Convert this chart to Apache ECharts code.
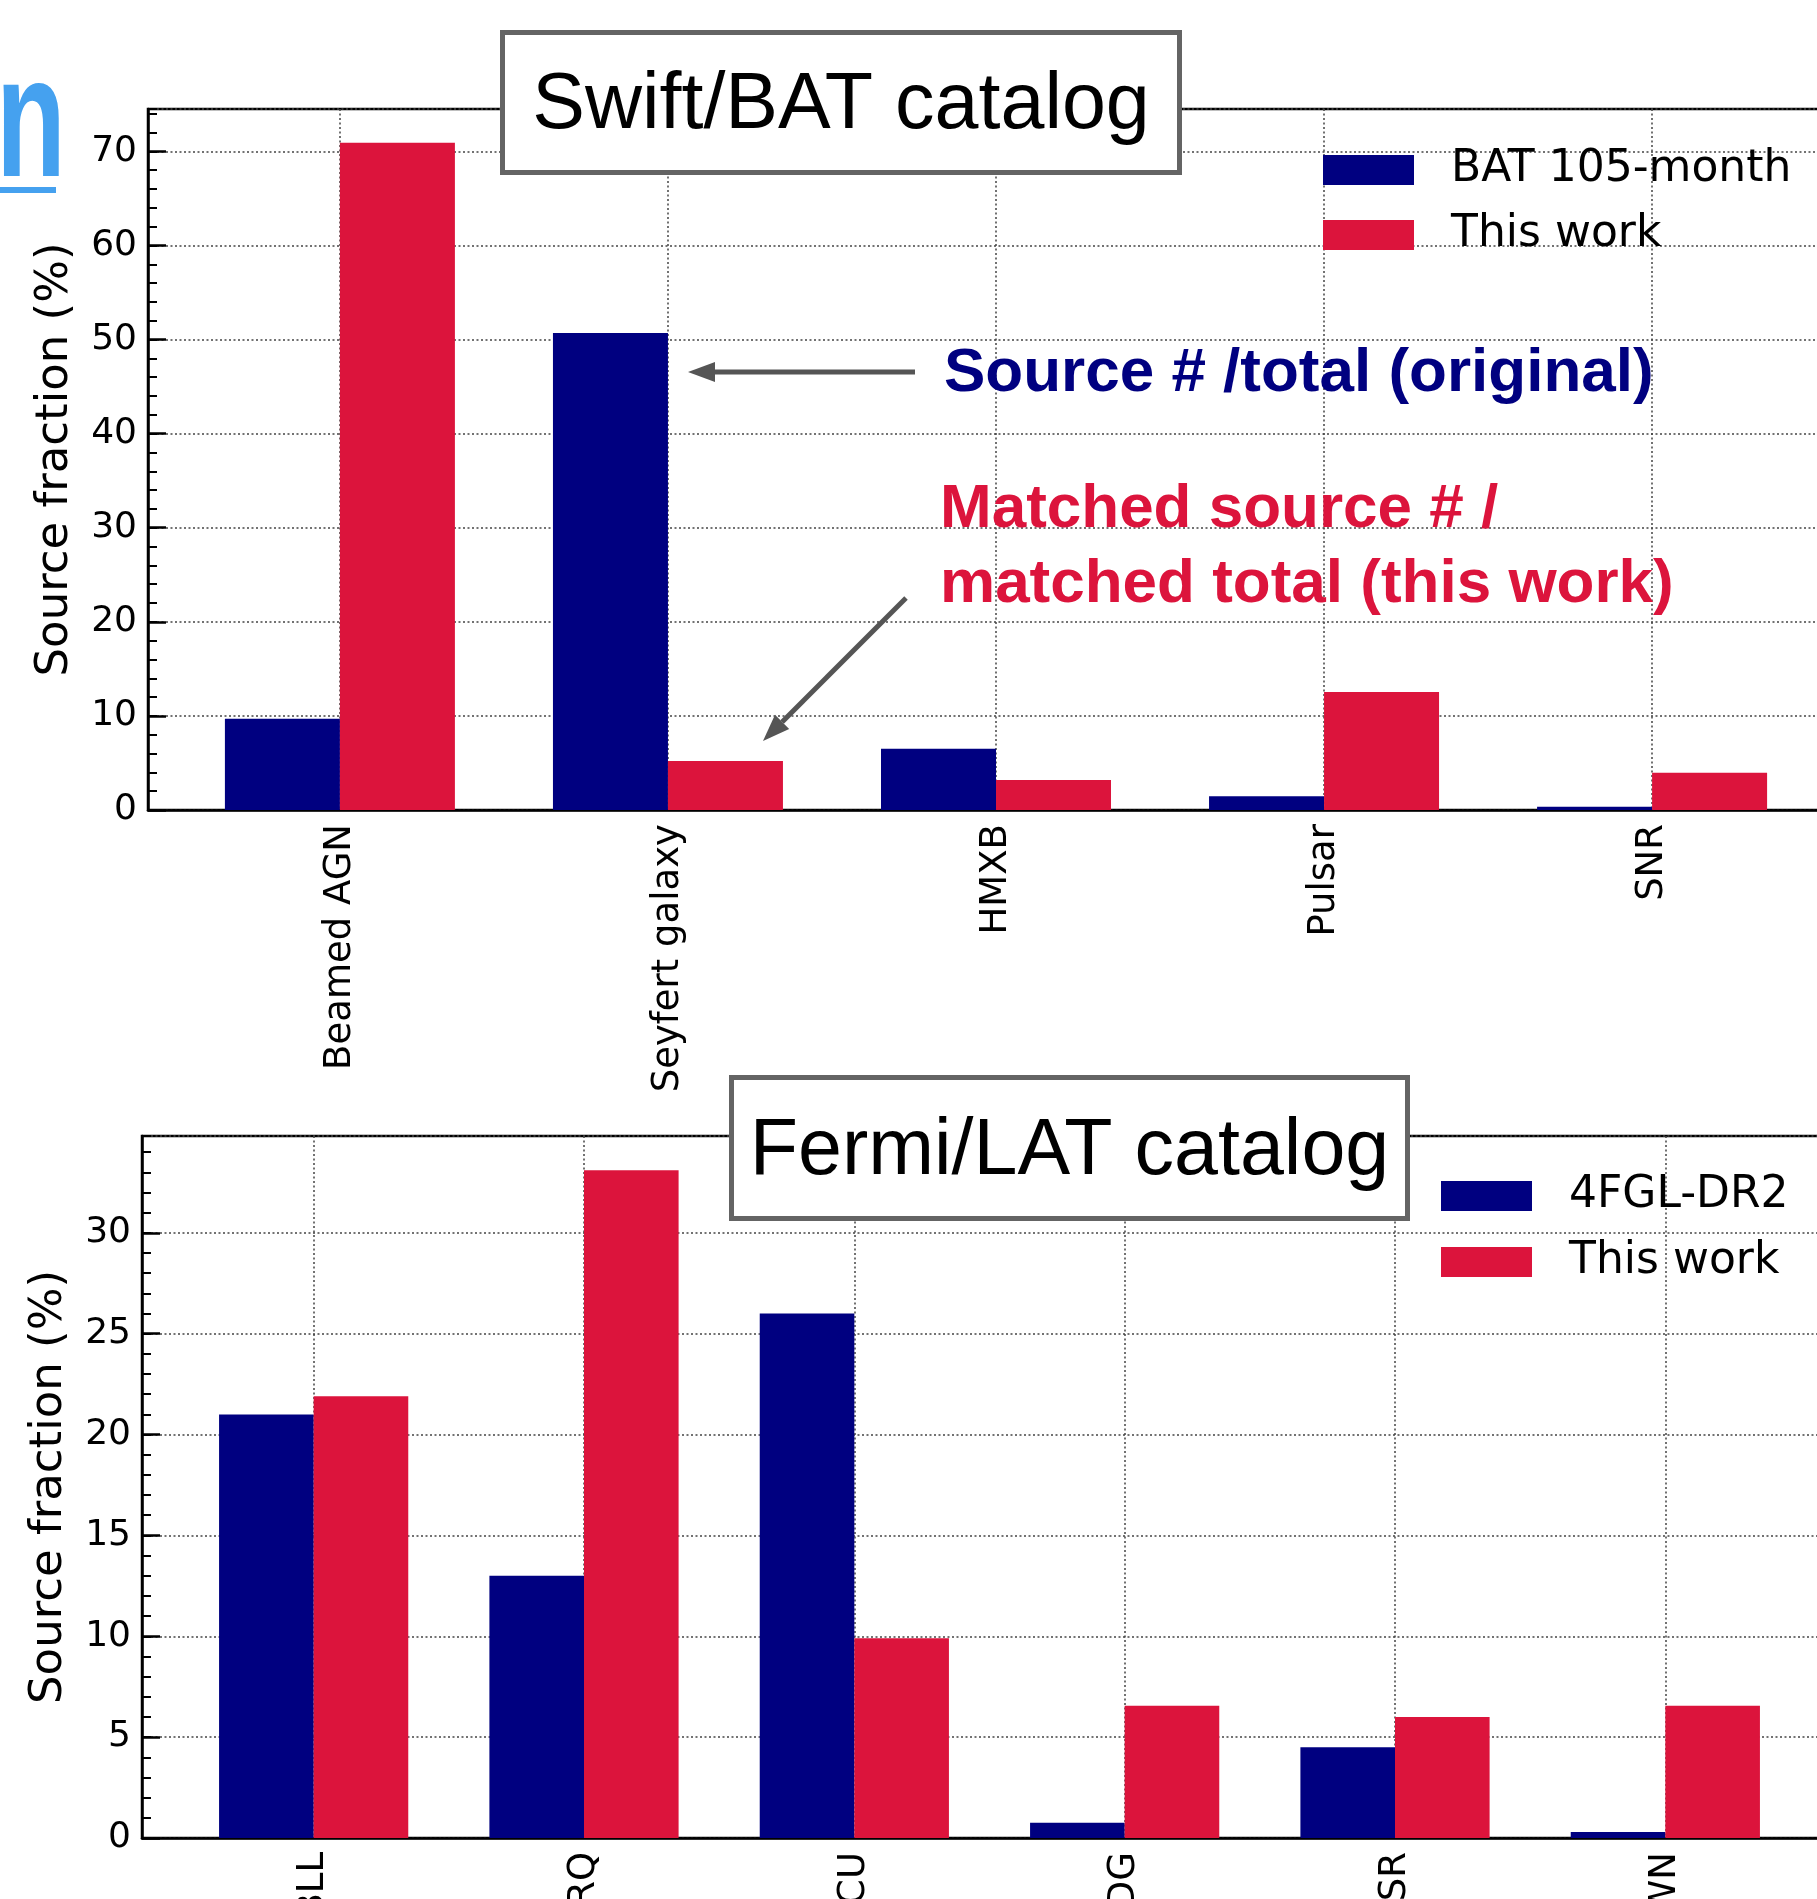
<!DOCTYPE html>
<html><head><meta charset="utf-8">
<script src="https://cdn.jsdelivr.net/npm/echarts@6/dist/echarts.min.js"></script>
<style>html,body{margin:0;padding:0;background:#fff}#c{width:1817px;height:1899px}</style>
</head><body><div id="c"></div>
<script>
// ---- data ----
const batCategories = ['Beamed AGN', 'Seyfert galaxy', 'HMXB', 'Pulsar', 'SNR'];
const batOriginal   = [9.7, 50.7, 6.5, 1.45, 0.35];     // BAT 105-month
const batThisWork   = [70.9, 5.2, 3.2, 12.55, 3.95];    // This work
const fermiCategories = ['BLL', 'FSRQ', 'BCU', 'RDG', 'PSR', 'PWN'];
const fermiOriginal   = [21.0, 13.0, 26.0, 0.75, 4.5, 0.3];   // 4FGL-DR2
const fermiThisWork   = [21.9, 33.1, 9.9, 6.55, 6.0, 6.55];   // This work
const seriesNames = { bat: 'BAT 105-month', fermi: '4FGL-DR2', ours: 'This work' };
const yTitle = 'Source fraction (%)';

// ---- styling ----
const FONT = 'DejaVu Sans';
const NAVY = '#000080', CRIMSON = '#DC143C';
const GRIDLINE = { color: '#444', width: 1.5, type: [2, 2.5] };

function xAxisFor(gridIndex, cats, min, max) {
  const idx = cats.map((_, i) => i);
  return {
    type: 'value', gridIndex, min, max, position: 'bottom',
    axisLine: { show: true, onZero: false, lineStyle: { color: '#000', width: 2.5 } },
    axisTick: { show: false, customValues: idx },
    axisLabel: { customValues: idx, rotate: 90, margin: 14, fontFamily: FONT, fontSize: 37, color: '#000',
                 formatter: v => cats[Math.round(v)] },
    splitLine: { show: true, lineStyle: GRIDLINE }
  };
}
function yMain(gridIndex, max, interval) {
  return {
    type: 'value', gridIndex, min: 0, max, interval, position: 'left',
    name: yTitle, nameLocation: 'middle', nameGap: 70,
    nameTextStyle: { fontFamily: FONT, fontSize: 45, color: '#000' },
    axisLine: { show: true, onZero: false, lineStyle: { color: '#000', width: 2.5 } },
    axisTick: { show: true, inside: true, length: 18, lineStyle: { color: '#000', width: 2.5 } },
    axisLabel: { showMaxLabel: false, margin: 11, fontFamily: FONT, fontSize: 36, color: '#000' },
    splitLine: { show: true, lineStyle: GRIDLINE }
  };
}
function yMinor(gridIndex, max, interval) {
  return {
    type: 'value', gridIndex, min: 0, max, interval, position: 'left', offset: 0,
    axisLine: { show: false, onZero: false },
    axisTick: { show: true, inside: true, length: 9, lineStyle: { color: '#000', width: 2 } },
    axisLabel: { show: false }, splitLine: { show: false }
  };
}
function barSeries(name, data, color, xi, yi, width) {
  return {
    type: 'bar', name, xAxisIndex: xi, yAxisIndex: yi,
    data: data.map((v, i) => [i, v]),
    barWidth: width, barGap: '0%',
    itemStyle: { color }
  };
}
function legendFor(names, left, top, gap) {
  return {
    data: names, orient: 'vertical', left, top, padding: 0,
    itemWidth: 91, itemHeight: 30, itemGap: gap, icon: 'rect', selectedMode: false,
    textStyle: { fontFamily: FONT, fontSize: 44, color: '#000', padding: [0, 0, 0, 32] }
  };
}
function titleBox(x, y, w, h, text) {
  return [
    { type: 'rect', z: 100, shape: { x: x + 2.5, y: y + 2.5, width: w - 5, height: h - 5 },
      style: { fill: '#fff', stroke: '#646464', lineWidth: 5 } },
    { type: 'text', z: 101, x: x + w / 2, y: y + h / 2 + 4,
      style: { text, font: '79px "Liberation Sans"', fill: '#000', align: 'center', verticalAlign: 'middle',
               textAlign: 'center', textVerticalAlign: 'middle' } }
  ];
}
function arrow(x1, y1, x2, y2) {
  const len = Math.hypot(x2 - x1, y2 - y1), ux = (x2 - x1) / len, uy = (y2 - y1) / len;
  const hl = 27, hw = 10;
  const bx = x2 - ux * hl, by = y2 - uy * hl;
  return [
    { type: 'line', z: 100, shape: { x1, y1, x2: bx, y2: by }, style: { stroke: '#555', lineWidth: 5 } },
    { type: 'polygon', z: 100, shape: { points: [[x2, y2], [bx - uy * hw, by + ux * hw], [bx + uy * hw, by - ux * hw]] },
      style: { fill: '#555' } }
  ];
}
function note(x, y, text, color) {
  return { type: 'text', z: 100, x, y,
    style: { text, font: 'bold 62px "Liberation Sans"', fill: color, align: 'left', verticalAlign: 'middle',
             textAlign: 'left', textVerticalAlign: 'middle' } };
}

const chart = echarts.init(document.getElementById('c'), null, { renderer: 'canvas' });
chart.setOption({
  animation: false,
  backgroundColor: '#fff',
  grid: [
    { left: 148, top: 109, width: 1696, height: 701, show: true, borderColor: '#000', borderWidth: 2.5,
      backgroundColor: 'transparent', containLabel: false, outerBoundsMode: 'none' },
    { left: 142, top: 1136, width: 1695, height: 702, show: true, borderColor: '#000', borderWidth: 2.5,
      backgroundColor: 'transparent', containLabel: false, outerBoundsMode: 'none' }
  ],
  xAxis: [
    xAxisFor(0, batCategories, -0.585, 4.585),
    xAxisFor(1, fermiCategories, -0.635, 5.635)
  ],
  yAxis: [
    yMain(0, 74.5, 10), yMinor(0, 74.5, 2),
    yMain(1, 34.8, 5), yMinor(1, 34.8, 1)
  ],
  legend: [
    legendFor([seriesNames.bat, seriesNames.ours], 1323, 148, 21),
    legendFor([seriesNames.fermi, seriesNames.ours], 1441, 1174, 22)
  ],
  series: [
    barSeries(seriesNames.bat, batOriginal, NAVY, 0, 0, 115),
    barSeries(seriesNames.ours, batThisWork, CRIMSON, 0, 0, 115),
    barSeries(seriesNames.fermi, fermiOriginal, NAVY, 1, 2, 94.6),
    barSeries(seriesNames.ours, fermiThisWork, CRIMSON, 1, 2, 94.6)
  ],
  graphic: [
    { type: 'text', z: 100, x: -4, y: 128, scaleX: 0.66,
      style: { text: 'n', font: 'bold 173px "Liberation Sans"', fill: '#45a1ef', verticalAlign: 'middle', textVerticalAlign: 'middle' } },
    { type: 'rect', z: 100, shape: { x: 0, y: 187, width: 56, height: 6 }, style: { fill: '#45a1ef' } },
    ...titleBox(500, 30, 682, 145, 'Swift/BAT catalog'),
    ...titleBox(729, 1075, 681, 146, 'Fermi/LAT catalog'),
    ...arrow(915, 372, 688, 372),
    ...arrow(906, 598, 763, 741),
    note(944, 374, 'Source # /total (original)', NAVY),
    note(940, 510, 'Matched source # /', CRIMSON),
    note(940, 585, 'matched total (this work)', CRIMSON)
  ]
});
</script>
</body></html>
